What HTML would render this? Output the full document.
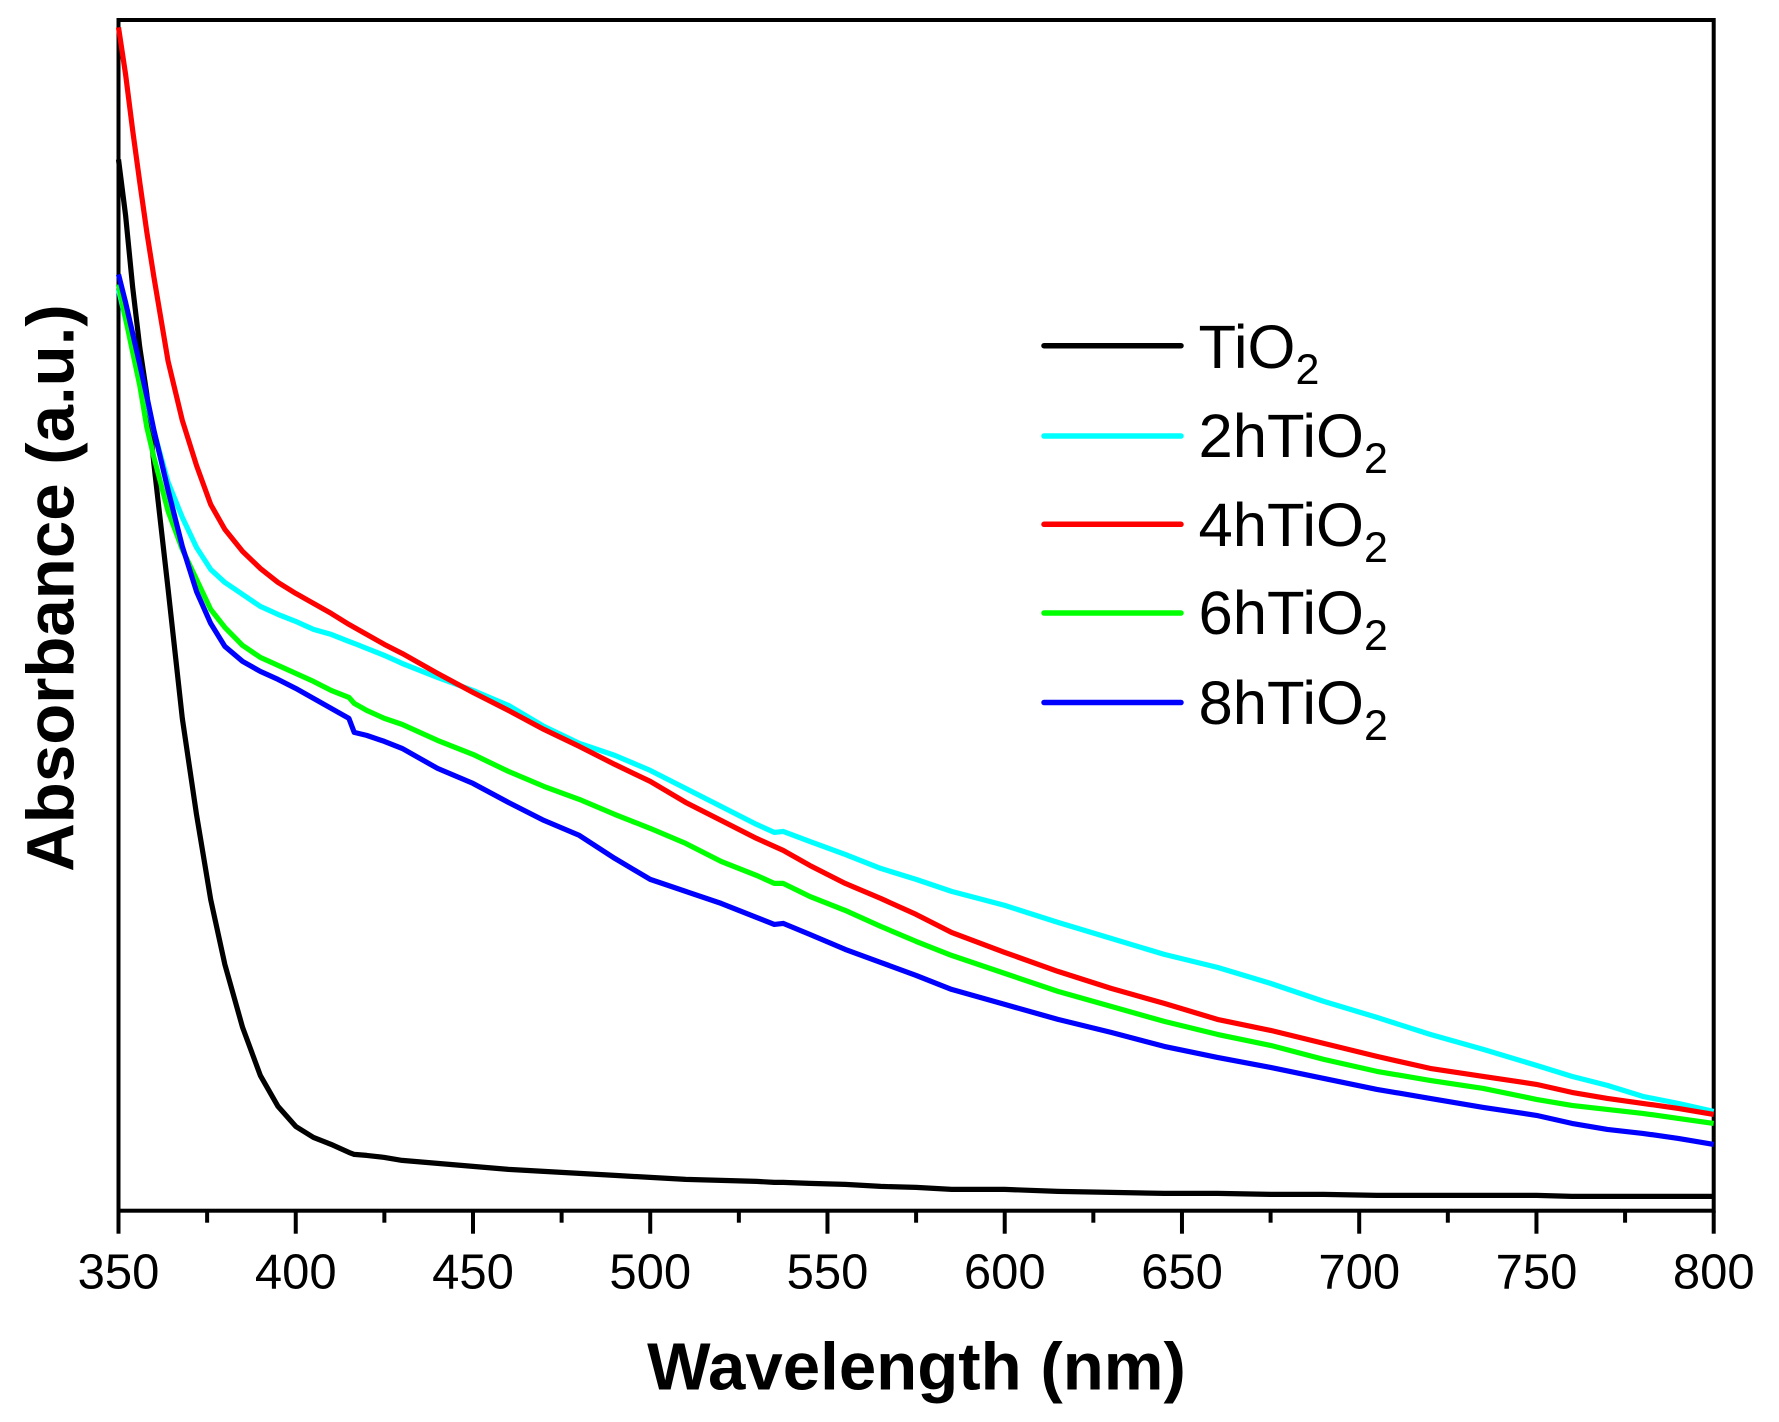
<!DOCTYPE html>
<html>
<head>
<meta charset="utf-8">
<title>Absorbance vs Wavelength</title>
<style>
html,body{margin:0;padding:0;background:#fff;}
svg{display:block;}
text{font-family:"Liberation Sans",Arial,sans-serif;fill:#000;}
.tick-label{font-size:49px;text-anchor:middle;}
.axis-title{font-size:67.2px;font-weight:bold;}
.legend-text{font-size:61.6px;}
.sub{font-size:43px;}
</style>
</head>
<body>
<svg id="chart" xmlns="http://www.w3.org/2000/svg" width="1779" height="1422" viewBox="0 0 1779 1422">
  <rect x="0" y="0" width="1779" height="1422" fill="#ffffff"/>
  <rect x="118.5" y="20" width="1595.2" height="1190.7" fill="none" stroke="#000" stroke-width="4"/>
  <g id="ticks"></g>
  <g id="series"></g>
  <text class="axis-title" x="916.5" y="1389.5" text-anchor="middle">Wavelength (nm)</text>
  <text class="axis-title" transform="translate(73.5,588) rotate(-90)" text-anchor="middle">Absorbance (a.u.)</text>
  <g>
    <g>
      <line x1="1044" x2="1181" y1="345.7" y2="345.7" stroke="#000000" stroke-width="5.5" stroke-linecap="round"/>
      <text class="legend-text" x="1198.5" y="368">TiO<tspan class="sub" dy="16">2</tspan></text>
    </g>
    <g>
      <line x1="1044" x2="1181" y1="436" y2="436" stroke="#00ffff" stroke-width="5.5" stroke-linecap="round"/>
      <text class="legend-text" x="1198.5" y="457">2hTiO<tspan class="sub" dy="16">2</tspan></text>
    </g>
    <g>
      <line x1="1044" x2="1181" y1="524.3" y2="524.3" stroke="#ff0000" stroke-width="5.5" stroke-linecap="round"/>
      <text class="legend-text" x="1198.5" y="546">4hTiO<tspan class="sub" dy="16">2</tspan></text>
    </g>
    <g>
      <line x1="1044" x2="1181" y1="613" y2="613" stroke="#00ff00" stroke-width="5.5" stroke-linecap="round"/>
      <text class="legend-text" x="1198.5" y="634">6hTiO<tspan class="sub" dy="16">2</tspan></text>
    </g>
    <g>
      <line x1="1044" x2="1181" y1="702.5" y2="702.5" stroke="#0000ff" stroke-width="5.5" stroke-linecap="round"/>
      <text class="legend-text" x="1198.5" y="724">8hTiO<tspan class="sub" dy="16">2</tspan></text>
    </g>
  </g>
</svg>
<script>
const wavelengths = [350,352,354,356,358,360,364,368,372,376,380,385,390,395,400,405,410,415,416.5,420,425,430,440,450,460,470,480,490,500,510,520,530,535,537.5,545,555,565,575,585,600,615,630,645,660,675,690,705,720,735,750,760,770,780,790,800];
const tio2 = [1051,995,923,863,816,746,621,492,396,311,246,183,135,104,84,73,66,58,56,55,53,50,47,44,41,39,37,35,33,31,30,29,28,28,27,26,24,23,21,21,19,18,17,17,16,16,15,15,15,15,14,14,14,14,14];
const h2tio2 = [921,891,863,839,811,779,728,693,663,641,628,616,604,596,589,581,576,569,567,562,555,547,533,520,505,484,467,455,440,422,404,386,378,379,369,356,342,331,319,305,288,272,256,243,227,209,193,176,161,145,134,125,114,107,99];
const h4tio2 = [1183,1136,1080,1028,978,933,849,790,745,706,681,659,642,628,617,607,597,586,583,576,566,557,537,518,500,481,464,446,429,408,390,372,364,360,345,327,312,296,278,258,239,222,207,191,180,167,154,142,134,126,118,112,107,102,96];
const h6tio2 = [926,892,858,825,783,753,699,661,631,601,583,565,553,545,537,529,520,513,507,500,492,486,470,456,439,424,411,396,382,367,349,335,327,327,314,300,284,269,255,237,219,204,189,176,165,151,139,130,122,111,105,101,97,92,87];
const h8tio2 = [936,908,877,846,814,780,720,664,619,587,564,549,539,531,522,512,502,492,478,475,469,462,442,427,408,390,375,352,331,319,307,293,286,287,276,261,248,235,221,206,191,178,164,153,143,132,121,112,103,95,87,81,77,72,66];
const majorTicks = [350,400,450,500,550,600,650,700,750,800];
const minorTicks = [375,425,475,525,575,625,675,725,775];
const seriesNames = ["tio2","2h-tio2","4h-tio2","6h-tio2","8h-tio2"];

const NS = "http://www.w3.org/2000/svg";
const plot = {left:118.5,right:1713.7,top:20,bottom:1210.7};
const xDomain = [350,800];
const yDomain = [0,1190.7];
function xScale(w){return plot.left+(w-xDomain[0])/(xDomain[1]-xDomain[0])*(plot.right-plot.left);}
function yScale(v){return plot.bottom-(v+0.3-yDomain[0])/(yDomain[1]-yDomain[0])*(plot.bottom-plot.top);}

const tickGroup = document.getElementById("ticks");
majorTicks.forEach(function(t){
  const l = document.createElementNS(NS,"line");
  
  
  l.setAttribute("x1",xScale(t));
  l.setAttribute("x2",xScale(t));
  l.setAttribute("y1",plot.bottom);
  l.setAttribute("y2",plot.bottom+23);
  l.setAttribute("stroke","#000");
  l.setAttribute("stroke-width","4");
  tickGroup.appendChild(l);
  const s = document.createElementNS(NS,"text");
  
  
  s.setAttribute("class","tick-label");
  s.setAttribute("x",xScale(t));
  s.setAttribute("y",1288.5);
  s.textContent = String(t);
  tickGroup.appendChild(s);
});
minorTicks.forEach(function(t){
  const l = document.createElementNS(NS,"line");
  
  
  l.setAttribute("x1",xScale(t));
  l.setAttribute("x2",xScale(t));
  l.setAttribute("y1",plot.bottom);
  l.setAttribute("y2",plot.bottom+12);
  l.setAttribute("stroke","#000");
  l.setAttribute("stroke-width","4");
  tickGroup.appendChild(l);
});

const seriesValues = [tio2,h2tio2,h4tio2,h6tio2,h8tio2];
const seriesColors = ["#000000","#00ffff","#ff0000","#00ff00","#0000ff"];
const seriesGroup = document.getElementById("series");
seriesValues.forEach(function(values,i){
  const d = values.map(function(v,j){
    return (j?"L":"M")+xScale(wavelengths[j]).toFixed(2)+" "+yScale(v).toFixed(2);
  }).join(" ");
  const p = document.createElementNS(NS,"path");
  
  
  p.setAttribute("d",d);
  p.setAttribute("fill","none");
  p.setAttribute("stroke",seriesColors[i]);
  p.setAttribute("stroke-width","5.2");
  p.setAttribute("stroke-linejoin","round");
  seriesGroup.appendChild(p);
});
</script>
</body>
</html>
